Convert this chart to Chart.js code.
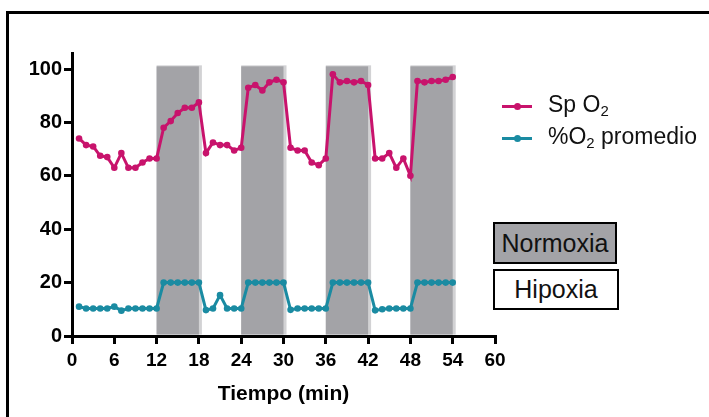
<!DOCTYPE html>
<html>
<head>
<meta charset="utf-8">
<script src="https://cdn.jsdelivr.net/npm/chart.js@4.4.1/dist/chart.umd.min.js"></script>
<style>
html, body { margin: 0; padding: 0; background: #fff; }
#wrap { position: relative; width: 709px; height: 417px; overflow: hidden; font-family: "Liberation Sans", Arial, sans-serif; }
#frame { position: absolute; left: 6px; top: 11px; width: 800px; height: 500px; border-left: 3px solid #000; border-top: 3px solid #000; }
#chart { position: absolute; left: 0; top: 0; }
.leg-line { position: absolute; left: 502px; width: 30px; height: 3px; }
.leg-dot { position: absolute; left: 12px; top: -2px; width: 7px; height: 7px; border-radius: 50%; background: inherit; }
.leg-text { position: absolute; left: 548px; font-size: 23px; line-height: 23px; color: #111; white-space: nowrap; }
.leg-text sub { font-size: 65%; vertical-align: -0.3em; line-height: 0; }
.box { position: absolute; left: 493px; border: 2px solid #000; text-align: center; font-size: 25px; color: #111; }
</style>
</head>
<body>
<div id="wrap">
  <div id="frame"></div>
  <canvas id="chart" width="709" height="417"></canvas>
  <div id="legend"></div>
  <div class="box" style="top:222px;width:120px;height:38px;line-height:38px;background:#a3a3a7;">Normoxia</div>
  <div class="box" style="top:269px;width:122px;height:37px;line-height:37px;background:#fff;">Hipoxia</div>
</div>
<script>
// --- datos ---
const minutos = [1,2,3,4,5,6,7,8,9,10,11,12,13,14,15,16,17,18,19,20,21,22,23,24,25,26,27,
  28,29,30,31,32,33,34,35,36,37,38,39,40,41,42,43,44,45,46,47,48,49,50,51,52,53,54];
const spO2 = [74,71.5,71,67.5,67,63,68.5,63,63,65,66.5,66.5, 78,80.5,83.5,85.5,85.5,87.5,
  68.5,72.5,71.5,71.5,69.5,70.5, 93,94,92,95,96,95, 70.5,69.5,69.5,65,64,66.5,
  98,95,95.5,95,95.5,94, 66.5,66.5,68.5,63,66.5,60, 95.5,95,95.5,95.5,96,97];
const o2Promedio = [11,10.3,10.3,10.3,10.3,11,9.5,10.3,10.3,10.3,10.3,10.3, 20,20,20,20,20,20,
  9.7,10.3,15.3,10.3,10.3,10.3, 20,20,20,20,20,20, 9.8,10.3,10.3,10.3,10.3,10.3,
  20,20,20,20,20,20, 9.6,10,10.3,10.3,10.3,10.3, 20,20,20,20,20,20];
const normoxiaInicio = [12, 24, 36, 48];
const normoxiaFin = [18, 30, 42, 54];
const normoxiaTope = 101;
const xTicks = [0, 6, 12, 18, 24, 30, 36, 42, 48, 54, 60];
const yTicks = [0, 20, 40, 60, 80, 100];

const series = [
  { nombre: 'Sp O<sub>2</sub>', datos: spO2, color: '#c8136c' },
  { nombre: '%O<sub>2</sub> promedio', datos: o2Promedio, color: '#1a8ba2' }
];

// leyenda en HTML (para los subíndices)
const legend = document.getElementById('legend');
series.forEach((s, i) => {
  const y = 105 + i * 32;
  legend.innerHTML += `<div class="leg-line" style="top:${y}px;background:${s.color}"><div class="leg-dot"></div></div>
    <div class="leg-text" style="top:${y - 12}px">${s.nombre}</div>`;
});

// bandas grises de normoxia
const bandas = {
  id: 'bandas',
  beforeDatasetsDraw(chart) {
    const { ctx, scales: { x, y } } = chart;
    const y0 = y.getPixelForValue(0) - 1.5;
    const yt = y.getPixelForValue(normoxiaTope);
    ctx.save();
    normoxiaInicio.forEach((ini, i) => {
      const x0 = x.getPixelForValue(ini);
      const x1 = x.getPixelForValue(normoxiaFin[i]);
      ctx.fillStyle = '#d2d2d4';
      ctx.fillRect(x0, yt - 1, x1 - x0 + 3, y0 - yt + 1);
      ctx.fillStyle = '#a3a3a7';
      ctx.fillRect(x0, yt, x1 - x0, y0 - yt);
    });
    ctx.restore();
  }
};

const ejeFuente = { family: 'Liberation Sans', weight: 'bold', size: 20 };

new Chart(document.getElementById('chart'), {
  type: 'line',
  data: {
    datasets: series.map(s => ({
      data: minutos.map((m, i) => ({ x: m, y: s.datos[i] })),
      borderColor: s.color,
      backgroundColor: s.color,
      pointBackgroundColor: s.color,
      borderWidth: 3,
      pointRadius: 3.3,
      pointBorderWidth: 0,
      tension: 0
    }))
  },
  options: {
    responsive: false,
    animation: false,
    layout: { padding: { top: 53, right: 214, left: 0, bottom: 0 } },
    plugins: { legend: { display: false }, tooltip: { enabled: false } },
    scales: {
      x: {
        type: 'linear', min: 0, max: 60,
        afterFit: s => { s.height = 81; },
        afterBuildTicks: s => { s.ticks = xTicks.map(v => ({ value: v })); },
        ticks: { color: '#000', font: { ...ejeFuente, size: 19 }, padding: 5 },
        grid: { drawOnChartArea: false, drawTicks: true, tickLength: 8, color: '#000', lineWidth: 3 },
        border: { color: '#000', width: 3 },
        title: { display: true, text: 'Tiempo (min)', color: '#000', font: { ...ejeFuente, size: 21 }, padding: { top: 0, bottom: 10 } }
      },
      y: {
        type: 'linear', min: 0, max: 106,
        afterFit: s => { s.width = 72; },
        afterBuildTicks: s => { s.ticks = yTicks.map(v => ({ value: v })); },
        ticks: { color: '#000', font: ejeFuente, padding: 2 },
        grid: { drawOnChartArea: false, drawTicks: true, tickLength: 8, color: '#000', lineWidth: 3 },
        border: { color: '#000', width: 3 }
      }
    }
  },
  plugins: [bandas]
});
</script>
</body>
</html>
